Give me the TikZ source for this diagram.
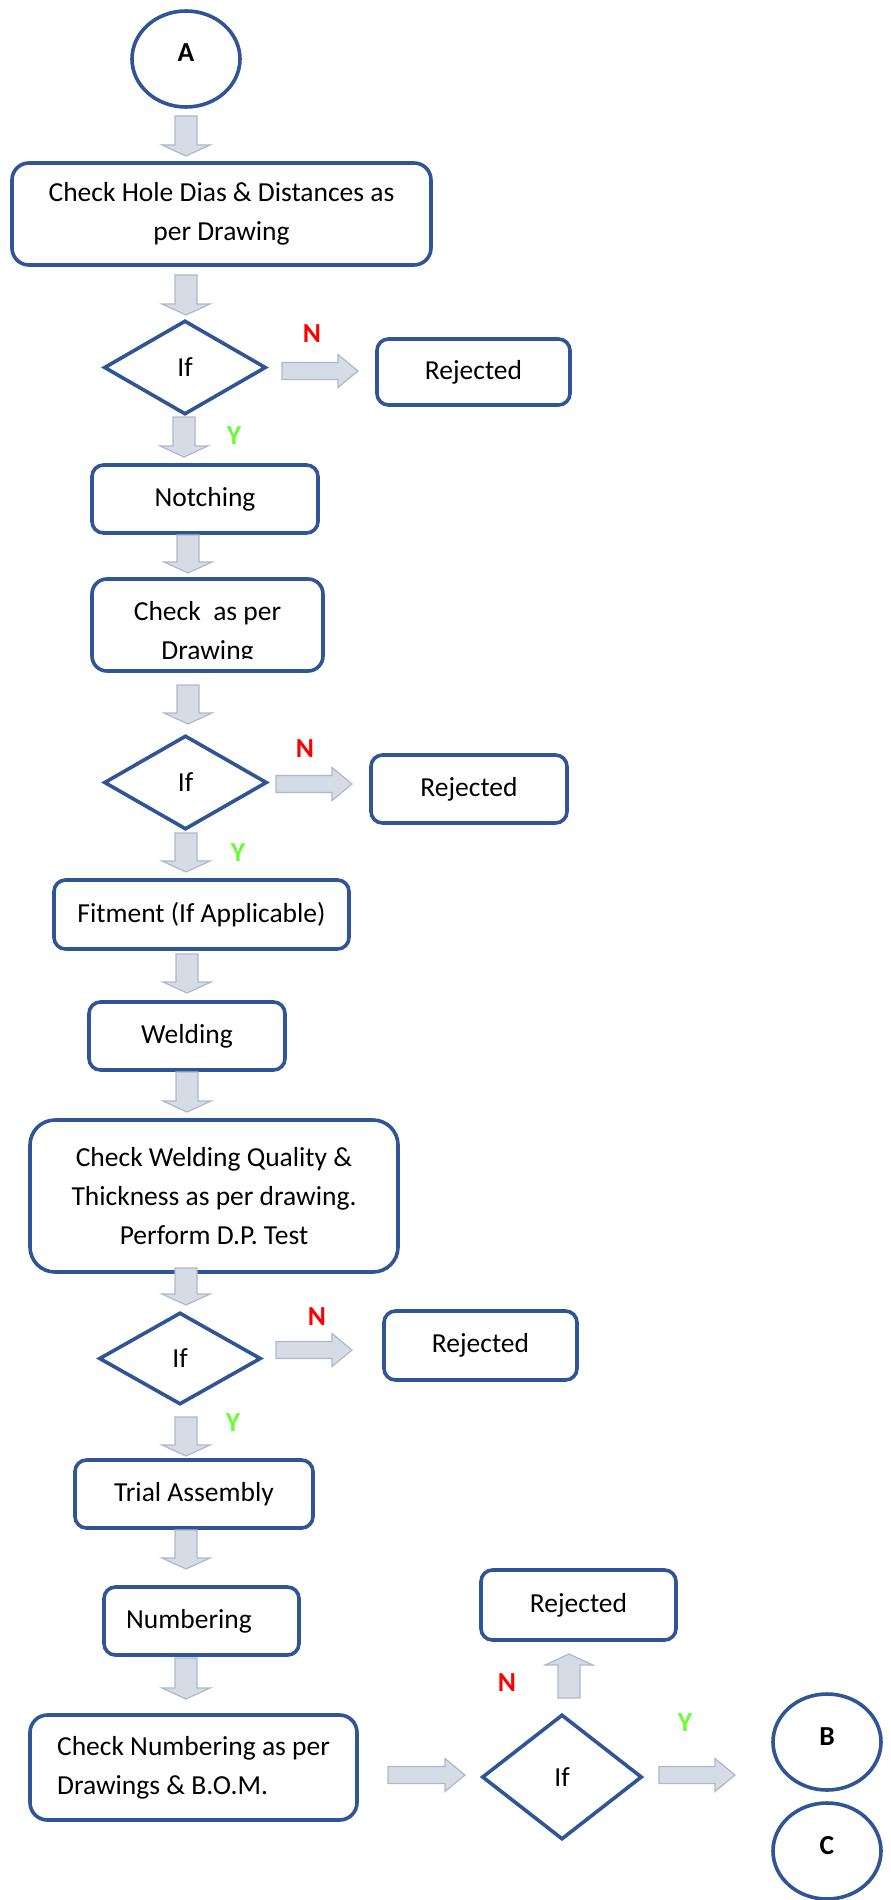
\documentclass[tikz,border=0pt]{standalone}
\usepackage{fontspec}
\setmainfont{Carlito}
\usetikzlibrary{shapes.geometric}
\definecolor{bdr}{RGB}{47,85,151}
\definecolor{afill}{RGB}{214,220,229}
\definecolor{aline}{RGB}{173,185,202}
\definecolor{nred}{RGB}{255,0,0}
\definecolor{ygreen}{RGB}{102,255,51}
\newcommand{\myfsz}{\fontsize{27.5}{39}\selectfont}
\newcommand{\dbarrow}[3]{%
  \draw[barrow] (#1-11,#2) -- (#1+11,#2) -- (#1+11,#3-11) -- (#1+24,#3-11) -- (#1,#3) -- (#1-24,#3-11) -- (#1-11,#3-11) -- cycle;}
\newcommand{\ubarrow}[3]{%
  \draw[barrow] (#1-11,#2) -- (#1+11,#2) -- (#1+11,#3+11) -- (#1+24,#3+11) -- (#1,#3) -- (#1-24,#3+11) -- (#1-11,#3+11) -- cycle;}
\newcommand{\rbarrow}[3]{%
  \draw[barrow] (#2,#1-8.5) -- (#3-20,#1-8.5) -- (#3-20,#1-16.5) -- (#3,#1) -- (#3-20,#1+16.5) -- (#3-20,#1+8.5) -- (#2,#1+8.5) -- cycle;}
\tikzset{
  box/.style={draw=bdr, line width=3.6pt, fill=white, rounded corners=#1, inner sep=0pt, align=center},
  box/.default=11.5pt,
  dia/.style={draw=bdr, line width=3.6pt, fill=white, diamond, inner sep=0pt},
  cir/.style={draw=bdr, line width=3.6pt, fill=white, ellipse, inner sep=0pt, minimum width=108pt, minimum height=96pt},
  barrow/.style={draw=aline, fill=afill, line width=1.2pt},
  nlab/.style={text=nred, font=\myfsz\bfseries},
  ylab/.style={text=ygreen, font=\myfsz\bfseries},
  lett/.style={font=\myfsz\bfseries}
}
\begin{document}
\begin{tikzpicture}[x=1pt, y=-1pt, font=\myfsz]
\fill[white] (0,0) rectangle (891,1900);
\useasboundingbox (0,0) rectangle (891,1900);

% connectors circles
\node[cir, label={[lett, yshift=6pt]center:A}] (A) at (186,59) {};
\node[cir, label={[lett, yshift=5pt]center:B}] (B) at (827,1742) {};
\node[cir, label={[lett, yshift=5pt]center:C}] (C) at (827,1851) {};

% boxes
\node[box=17pt, minimum width=419pt, minimum height=102pt] (b1) at (221.5,214) {Check Hole Dias \& Distances as\\per Drawing};
\node[dia, minimum width=162pt, minimum height=94pt] (d1) at (185,367.5) {If};
\node[box, minimum width=193pt, minimum height=66pt] (r1) at (473.5,372) {Rejected};
\node[box, minimum width=226pt, minimum height=68pt] (notch) at (205,499) {Notching};
\node[box=15pt, minimum width=231pt, minimum height=92pt] (chk2) at (207.5,625) {};
\begin{scope}
  \clip (92,579) rectangle (323,658);
  \node[align=center, inner sep=0pt] (chk2t) at (207.5,633) {Check~ as per\\Drawing};
\end{scope}
\node[dia, minimum width=163pt, minimum height=94pt] (d2) at (185.5,782.5) {If};
\node[box, minimum width=196pt, minimum height=68pt] (r2) at (469,789) {Rejected};
\node[box, minimum width=295pt, minimum height=69pt] (fit) at (201.5,914.5) {Fitment (If Applicable)};
\node[box, minimum width=196pt, minimum height=68pt] (weld) at (187,1036) {Welding};
\node[box=25pt, minimum width=368pt, minimum height=152pt] (chk3) at (214,1196) {Check Welding Quality \&\\Thickness as per drawing.\\Perform D.P. Test};
\node[dia, minimum width=162pt, minimum height=92pt] (d3) at (180,1358.5) {If};
\node[box, minimum width=193pt, minimum height=69pt] (r3) at (480.5,1345.5) {Rejected};
\node[box, minimum width=238pt, minimum height=68pt] (trial) at (194,1494) {Trial Assembly};
\node[box, minimum width=195pt, minimum height=68pt, label={[xshift=-12.5pt]center:Numbering}] (num) at (201.5,1621) {};
\node[box=17.5pt, minimum width=327pt, minimum height=105pt, align=left] (chk4) at (193.5,1767.5) {Check Numbering as per\\Drawings \& B.O.M.};
\node[dia, minimum width=160pt, minimum height=125pt] (d4) at (562,1777) {If};
\node[box, minimum width=195pt, minimum height=70pt] (r4) at (578.5,1605) {Rejected};

% labels
\node[nlab] (n1) at (312,334) {N};
\node[nlab] (n2) at (305,749) {N};
\node[nlab] (n3) at (317,1317) {N};
\node[nlab] (n4) at (507,1683) {N};
\node[ylab] (y1) at (234,436) {Y};
\node[ylab] (y2) at (238,853) {Y};
\node[ylab] (y3) at (233,1423) {Y};
\node[ylab] (y4) at (685,1723) {Y};

% block arrows
\dbarrow{186}{116}{156}
\dbarrow{186}{275}{315}
\dbarrow{184}{417}{457}
\dbarrow{188}{535}{573}
\dbarrow{188}{685}{724}
\dbarrow{186}{833}{872}
\dbarrow{187}{954}{993}
\dbarrow{187}{1072}{1112}
\dbarrow{186}{1268}{1305}
\dbarrow{186}{1417}{1456}
\dbarrow{186}{1530}{1569}
\dbarrow{186}{1658}{1699}
\ubarrow{569}{1698}{1654}
\rbarrow{371}{282}{358}
\rbarrow{784}{276}{352}
\rbarrow{1350}{276}{352}
\rbarrow{1775}{388}{465}
\rbarrow{1775}{659}{735}
\end{tikzpicture}
\end{document}
